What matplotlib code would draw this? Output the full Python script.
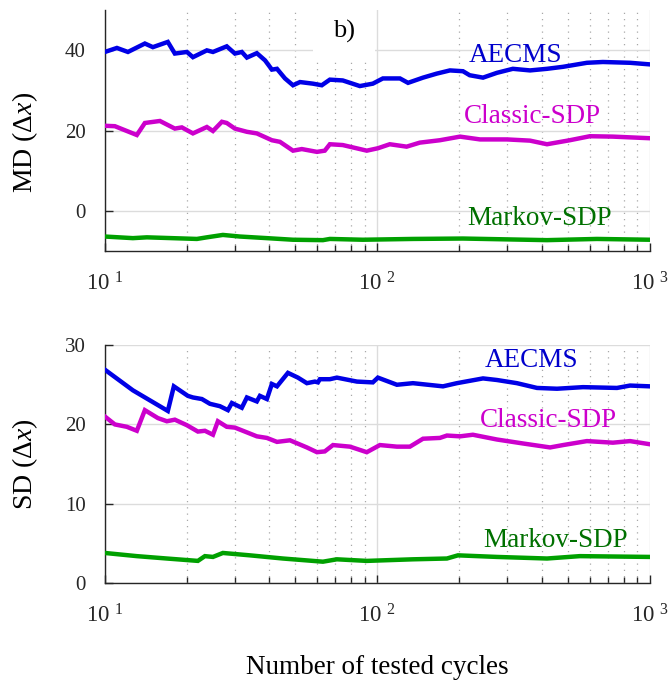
import numpy as np
import matplotlib
matplotlib.use("Agg")
import matplotlib.pyplot as plt
from matplotlib.ticker import FixedLocator, FixedFormatter, NullFormatter, LogLocator

plt.rcParams['font.family'] = ['Liberation Serif', 'DejaVu Serif']
plt.rcParams['mathtext.fontset'] = 'custom'
plt.rcParams['mathtext.rm'] = 'Liberation Serif'
plt.rcParams['mathtext.it'] = 'Liberation Serif:italic'

# --- mean deviation (MD) ---
md_aecms_n = [10, 11.07, 12.15, 14.02, 15.0, 17.02, 18.06, 20.0, 21.04, 23.67, 24.92, 28.0, 30.0,
              31.8, 33.2, 36.1, 38.7, 41.0, 42.8, 45.8, 49.0, 52.0, 58.0, 62.5, 66.9, 74.6, 86.2,
              96.2, 104.7, 121, 129.5, 147, 165, 184.5, 206, 218, 244, 274.5, 314, 363, 419, 480,
              587, 672, 845, 1000]
md_aecms = [39.6, 40.6, 39.6, 41.7, 40.8, 42.1, 39.2, 39.6, 38.3, 40.0, 39.6, 41.0, 39.2,
            39.6, 38.2, 39.3, 37.5, 35.2, 35.4, 33.0, 31.3, 32.1, 31.7, 31.3, 32.7, 32.5, 31.1,
            31.7, 33.0, 33.0, 31.9, 33.2, 34.2, 35.0, 34.8, 33.8, 33.2, 34.4, 35.4, 35.0, 35.4, 35.9,
            36.9, 37.1, 36.9, 36.5]

md_classic_n = [10, 10.88, 13.10, 14.02, 15.92, 18.06, 19.16, 21.04, 23.67, 24.92, 26.87, 28.0,
                30.0, 33.2, 36.1, 41.0, 43.9, 49.0, 52.8, 60.0, 64.1, 66.9, 74.6, 91.4, 100.4, 111,
                128, 143, 169.5, 201, 238, 299, 363, 419, 508, 602, 731, 1000]
md_classic = [21.2, 21.1, 18.9, 21.9, 22.4, 20.5, 20.8, 19.3, 20.9, 19.9, 22.2, 21.9,
              20.5, 19.7, 19.3, 17.6, 17.2, 15.0, 15.4, 14.7, 15.0, 16.6, 16.4, 15.0, 15.6, 16.6,
              16.0, 17.0, 17.6, 18.5, 17.8, 17.8, 17.5, 16.6, 17.6, 18.6, 18.5, 18.1]

md_markov_n = [10, 12.67, 14.26, 21.76, 23.67, 27.1, 31.29, 39.3, 49.0, 63.1, 66.9, 88.5, 135,
               206, 419, 639, 1000]
md_markov = [-6.4, -6.8, -6.6, -7.0, -6.6, -6.0, -6.4, -6.8, -7.2, -7.3, -7.0, -7.2, -7.0,
             -6.9, -7.3, -7.0, -7.2]

# --- standard deviation (SD) ---
sd_aecms_n = [10, 12.67, 17.02, 17.91, 20.16, 21.04, 22.70, 24.29, 26.42, 28.28, 29.24, 31.8,
              33.2, 36.1, 37.05, 39.3, 41.0, 42.8, 46.95, 51.1, 55.1, 58.97, 60.5, 61.5, 66.9,
              71.0, 84.1, 96.2, 100.4, 117.9, 135, 174, 195.7, 244, 274.5, 325, 385, 456, 568,
              757, 845, 1000]
sd_aecms = [26.9, 24.3, 21.7, 24.8, 23.6, 23.4, 23.2, 22.6, 22.3, 21.8, 22.7, 22.1,
            23.4, 22.9, 23.6, 23.2, 25.1, 24.8, 26.5, 25.9, 25.2, 25.4, 25.3, 25.7, 25.7,
            25.9, 25.4, 25.3, 25.9, 25.0, 25.2, 24.8, 25.2, 25.8, 25.6, 25.2, 24.6, 24.5, 24.7,
            24.6, 24.9, 24.8]

sd_classic_n = [10, 10.88, 12.04, 13.10, 14.02, 15.65, 16.88, 18.06, 20.0, 21.94, 23.28, 24.92,
                25.98, 28.0, 30.0, 33.2, 36.1, 39.3, 42.8, 47.75, 55.1, 60.0, 64.1, 68.7, 79.3,
                91.4, 102.1, 117.9, 131.6, 147, 169.5, 179.9, 201, 224, 274.5, 342, 430, 480, 587,
                731, 845, 1000]
sd_classic = [21.0, 20.0, 19.7, 19.2, 21.8, 20.8, 20.4, 20.6, 19.9, 19.1, 19.2, 18.7,
              20.4, 19.7, 19.6, 19.0, 18.5, 18.3, 17.8, 18.0, 17.1, 16.5, 16.6, 17.4, 17.2,
              16.5, 17.4, 17.2, 17.2, 18.2, 18.3, 18.6, 18.5, 18.7, 18.1, 17.6, 17.1, 17.4, 17.9,
              17.7, 17.9, 17.5]

sd_markov_n = [10, 13.10, 16.88, 21.94, 23.28, 24.92, 27.1, 34.05, 45.0, 63.1, 71.0, 91.4, 135,
               179.9, 197.4, 274.5, 419, 553, 1000]
sd_markov = [3.8, 3.4, 3.1, 2.8, 3.4, 3.3, 3.8, 3.5, 3.1, 2.7, 3.0, 2.8, 3.0,
             3.1, 3.5, 3.3, 3.1, 3.4, 3.3]

x_ticks = [10, 100, 1000]
x_tick_labels = [r'$\mathregular{10^{\,\ 1}}$', r'$\mathregular{10^{\,\ 2}}$', r'$\mathregular{10^{\,\ 3}}$']
series_names = ['AECMS', 'Classic-SDP', 'Markov-SDP']

line_colors = ['#0000e6', '#cc00cc', '#00a000']
text_colors = ['#0000cc', '#cc00cc', '#007000']


def style_axes(ax, ylim, yticks):
    ax.set_xscale('log')
    ax.set_xlim(10, 1000)
    ax.set_ylim(*ylim)
    ax.set_yticks(yticks)
    ax.xaxis.set_major_locator(FixedLocator(x_ticks))
    ax.xaxis.set_major_formatter(FixedFormatter(x_tick_labels))
    ax.xaxis.set_minor_locator(LogLocator(base=10, subs=np.arange(2, 10)))
    ax.xaxis.set_minor_formatter(NullFormatter())
    for side in ['top', 'right']:
        ax.spines[side].set_visible(False)
    for side in ['left', 'bottom']:
        ax.spines[side].set_color('#262626')
        ax.spines[side].set_linewidth(1.0)
    ax.tick_params(which='major', direction='in', length=6, width=1, color='#262626',
                   labelcolor='#262626')
    ax.tick_params(axis='x', which='major', pad=15, labelsize=16.5)
    ax.tick_params(axis='y', which='major', pad=14, labelsize=15)
    ax.tick_params(which='minor', direction='in', length=4, width=1, color='#262626')
    ax.grid(True, which='major', color='#dcdcdc', linestyle='-', linewidth=1.0)
    ax.grid(True, which='minor', axis='x', color='#a8a8a8', linestyle=(0, (1, 4)), linewidth=0.9)
    ax.set_axisbelow(True)


fig = plt.figure(figsize=(6.68, 6.82), dpi=100)
ax1 = fig.add_axes([0.157, 0.632, 0.816, 0.353])
ax2 = fig.add_axes([0.157, 0.145, 0.816, 0.349])

style_axes(ax1, (-10, 50), [0, 20, 40])
style_axes(ax2, (0, 30), [0, 10, 20, 30])

for n, v, c in zip([md_aecms_n, md_classic_n, md_markov_n], [md_aecms, md_classic, md_markov], line_colors):
    ax1.plot(n, v, color=c, linewidth=3.2, solid_joinstyle='miter', zorder=3)
for n, v, c in zip([sd_aecms_n, sd_classic_n, sd_markov_n], [sd_aecms, sd_classic, sd_markov], line_colors):
    ax2.plot(n, v, color=c, linewidth=3.2, solid_joinstyle='miter', zorder=3)

# series names written next to the curves
md_label_pos = [(322, 37.0), (372, 21.9), (392, -3.5)]
sd_label_pos = [(369, 27.2), (423, 19.7), (452, 4.5)]
for name, (x, y), c in zip(series_names, md_label_pos, text_colors):
    ax1.text(x, y, name, color=c, fontsize=19.5, ha='center', va='baseline')
for name, (x, y), c in zip(series_names, sd_label_pos, text_colors):
    ax2.text(x, y, name, color=c, fontsize=19.5, ha='center', va='baseline')

ax1.text(75.3, 43.3, 'b)', fontsize=19, ha='center', va='baseline', zorder=4,
         bbox=dict(boxstyle='square,pad=0.75', facecolor='white', edgecolor='none'))

ax1.set_ylabel(r'MD ($\Delta x$)', fontsize=20)
ax2.set_ylabel(r'SD ($\Delta x$)', fontsize=20)
ax1.yaxis.set_label_coords(-0.119, 0.452)
ax2.yaxis.set_label_coords(-0.119, 0.5)
ax2.set_xlabel('Number of tested cycles', fontsize=19.5, labelpad=20)

fig.savefig('out.png', dpi=100)
